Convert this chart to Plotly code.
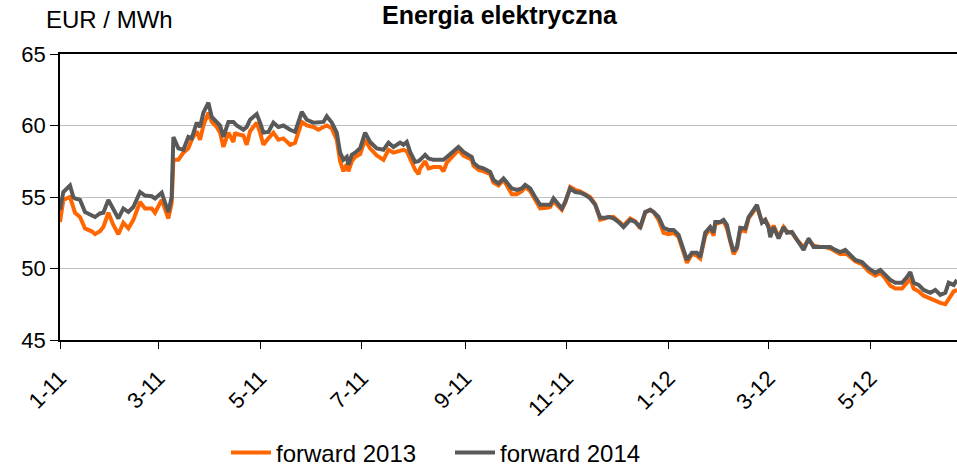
import plotly.graph_objects as go

dates = [
    "2011-01-01", "2011-01-03", "2011-01-07", "2011-01-09", "2011-01-10", "2011-01-13", "2011-01-16",
    "2011-01-20", "2011-01-22", "2011-01-25", "2011-01-27", "2011-01-30", "2011-02-02", "2011-02-05",
    "2011-02-08", "2011-02-11", "2011-02-14", "2011-02-18", "2011-02-21", "2011-02-25", "2011-02-27",
    "2011-03-03", "2011-03-05", "2011-03-07", "2011-03-09", "2011-03-10", "2011-03-13", "2011-03-16",
    "2011-03-19", "2011-03-21", "2011-03-24", "2011-03-26", "2011-03-28", "2011-03-31", "2011-04-02",
    "2011-04-05", "2011-04-07", "2011-04-09", "2011-04-12", "2011-04-15", "2011-04-16", "2011-04-17",
    "2011-04-21", "2011-04-23", "2011-04-25", "2011-04-29", "2011-05-01", "2011-05-03", "2011-05-06",
    "2011-05-09", "2011-05-12", "2011-05-15", "2011-05-19", "2011-05-22", "2011-05-26", "2011-05-29",
    "2011-06-02", "2011-06-05", "2011-06-08", "2011-06-10", "2011-06-13", "2011-06-16", "2011-06-18",
    "2011-06-20", "2011-06-22", "2011-06-23", "2011-06-25", "2011-06-27", "2011-06-30", "2011-07-03",
    "2011-07-06", "2011-07-10", "2011-07-14", "2011-07-17", "2011-07-20", "2011-07-24", "2011-07-26",
    "2011-07-28", "2011-07-30", "2011-08-02", "2011-08-04", "2011-08-05", "2011-08-08", "2011-08-10",
    "2011-08-13", "2011-08-17", "2011-08-19", "2011-08-21", "2011-08-25", "2011-08-28", "2011-08-31",
    "2011-09-03", "2011-09-05", "2011-09-06", "2011-09-09", "2011-09-12", "2011-09-16", "2011-09-18",
    "2011-09-21", "2011-09-24", "2011-09-26", "2011-09-29", "2011-10-02", "2011-10-05", "2011-10-07",
    "2011-10-10", "2011-10-13", "2011-10-16", "2011-10-20", "2011-10-22", "2011-10-24", "2011-10-27",
    "2011-10-29", "2011-10-31", "2011-11-03", "2011-11-06", "2011-11-09", "2011-11-12", "2011-11-15",
    "2011-11-18", "2011-11-21", "2011-11-24", "2011-11-26", "2011-11-29", "2011-12-02", "2011-12-05",
    "2011-12-09", "2011-12-12", "2011-12-15", "2011-12-18", "2011-12-21", "2011-12-23", "2011-12-26",
    "2011-12-29", "2012-01-01", "2012-01-04", "2012-01-07", "2012-01-10", "2012-01-12", "2012-01-15",
    "2012-01-18", "2012-01-20", "2012-01-23", "2012-01-26", "2012-01-28", "2012-01-29", "2012-02-01",
    "2012-02-03", "2012-02-05", "2012-02-07", "2012-02-09", "2012-02-11", "2012-02-13", "2012-02-16",
    "2012-02-18", "2012-02-21", "2012-02-23", "2012-02-26", "2012-02-28", "2012-03-01", "2012-03-02",
    "2012-03-04", "2012-03-07", "2012-03-10", "2012-03-12", "2012-03-15", "2012-03-18", "2012-03-22",
    "2012-03-25", "2012-03-28", "2012-04-01", "2012-04-04", "2012-04-07", "2012-04-10", "2012-04-13",
    "2012-04-16", "2012-04-19", "2012-04-22", "2012-04-26", "2012-04-30", "2012-05-04", "2012-05-07",
    "2012-05-10", "2012-05-13", "2012-05-16", "2012-05-20", "2012-05-23", "2012-05-25", "2012-05-27",
    "2012-05-30", "2012-06-02", "2012-06-06", "2012-06-09", "2012-06-12", "2012-06-15", "2012-06-17",
    "2012-06-20", "2012-06-22",
]

forward_2014 = [
    54.1, 55.35, 55.8, 55.0, 54.9, 54.8, 53.95,
    53.7, 53.6, 53.85, 53.9, 54.8, 54.1, 53.5,
    54.2, 53.95, 54.3, 55.35, 55.1, 55.05, 54.9,
    55.3, 54.6, 53.95, 55.0, 59.2, 58.4, 58.3,
    59.2, 59.1, 60.2, 59.9, 60.9, 61.6, 60.6,
    60.25, 60.0, 59.2, 60.25, 60.25, 60.1, 60.0,
    59.7, 59.9, 60.4, 60.8, 60.2, 59.5, 59.55,
    60.2, 59.9, 60.0, 59.7, 59.55, 60.95, 60.4,
    60.2, 60.25, 60.25, 60.65, 60.2, 59.5, 58.1,
    57.6, 57.8, 57.25, 57.95, 58.1, 58.4, 59.5,
    58.85, 58.4, 58.3, 58.8, 58.5, 58.8, 58.65,
    58.85, 58.15, 57.45, 57.5, 57.6, 57.95, 57.7,
    57.6, 57.6, 57.6, 57.8, 58.15, 58.5, 58.15,
    57.95, 57.8, 57.4, 57.1, 57.0, 56.75, 56.2,
    55.95, 56.3, 56.05, 55.6, 55.5, 55.6, 55.85,
    55.6, 55.0, 54.45, 54.45, 54.45, 54.9, 54.45,
    54.2, 54.65, 55.6, 55.35, 55.3, 55.15, 54.9,
    54.45, 53.55, 53.55, 53.6, 53.5, 53.25, 52.9,
    53.4, 53.25, 52.9, 53.95, 54.1, 53.95, 53.6,
    52.85, 52.7, 52.7, 52.35, 51.3, 50.6, 51.1,
    51.1, 50.8, 52.5, 52.9, 52.5, 53.25, 53.25,
    53.4, 53.05, 52.0, 51.2, 51.5, 52.85, 52.8,
    53.6, 54.1, 54.45, 53.2, 53.4, 52.85, 52.2,
    52.9, 52.1, 52.9, 52.5, 52.55, 52.0, 51.3,
    52.1, 51.5, 51.5, 51.5, 51.5, 51.3, 51.15,
    51.3, 50.95, 50.6, 50.45, 50.0, 49.7, 49.9,
    49.55, 49.2, 49.0, 49.0, 49.4, 49.75, 49.0,
    48.85, 48.5, 48.3, 48.5, 48.15, 48.3, 49.0,
    48.85, 49.2,
]

forward_2013 = [
    53.25, 54.8, 55.0, 54.3, 53.9, 53.6, 52.8,
    52.6, 52.4, 52.6, 52.9, 53.9, 53.05, 52.4,
    53.2, 52.8, 53.4, 54.65, 54.2, 54.2, 53.9,
    54.8, 54.2, 53.5, 54.6, 57.6, 57.6, 58.1,
    58.4, 59.0, 59.6, 59.0, 60.0, 60.9, 60.25,
    59.9, 59.5, 58.5, 59.5, 58.85, 59.5, 59.4,
    59.3, 58.65, 59.6, 60.2, 59.5, 58.65, 59.1,
    59.5, 59.0, 59.1, 58.65, 58.8, 60.25, 60.0,
    59.9, 59.7, 59.9, 60.0, 59.8, 59.0, 57.5,
    56.8, 57.3, 56.8, 57.5, 57.8, 58.0, 59.0,
    58.4, 57.9, 57.6, 58.3, 58.1, 58.2, 58.3,
    58.2, 57.7, 56.9, 56.6, 57.0, 57.5, 57.0,
    57.1, 57.1, 56.8, 57.4, 57.9, 58.3, 57.9,
    57.7, 57.6, 57.2, 56.9, 56.8, 56.6, 56.0,
    55.8, 56.2, 55.8, 55.2, 55.2, 55.4, 55.7,
    55.4, 54.8, 54.2, 54.25, 54.3, 54.7, 54.3,
    54.1, 54.6, 55.7, 55.5, 55.4, 55.2, 55.0,
    54.5, 53.4, 53.5, 53.6, 53.6, 53.3, 53.0,
    53.5, 53.3, 52.8, 53.9, 54.1, 53.95, 53.4,
    52.5, 52.4, 52.5, 52.2, 51.1, 50.4, 51.0,
    50.9, 50.7, 52.3, 52.8, 52.3, 53.1, 53.2,
    53.3, 52.8, 51.8, 51.0, 51.4, 52.7, 52.6,
    53.5, 54.0, 54.3, 53.3, 53.4, 53.0, 52.4,
    53.0, 52.2, 52.9, 52.6, 52.5, 52.0, 51.5,
    52.0, 51.6, 51.5, 51.5, 51.4, 51.2, 51.0,
    51.1, 50.8, 50.5, 50.3, 49.8, 49.5, 49.7,
    49.3, 48.8, 48.6, 48.6, 49.0, 49.3, 48.6,
    48.4, 48.1, 47.9, 47.7, 47.6, 47.5, 47.9,
    48.4, 48.5,
]

tick_dates = ["2011-01-01", "2011-03-01", "2011-05-01", "2011-07-01", "2011-09-01",
              "2011-11-01", "2012-01-01", "2012-03-01", "2012-05-01"]
tick_labels = ["1-11", "3-11", "5-11", "7-11", "9-11", "11-11", "1-12", "3-12", "5-12"]

FONT = "Liberation Sans, Arial, sans-serif"
H = 490  # taller than the 468 window; the page is clipped to the window

fig = go.Figure()
fig.add_trace(go.Scatter(x=dates, y=forward_2013, mode="lines", name="forward 2013",
                         line=dict(color="#FF6600", width=4)))
fig.add_trace(go.Scatter(x=dates, y=forward_2014, mode="lines", name="forward 2014",
                         line=dict(color="#595959", width=4)))

fig.update_layout(
    width=957, height=H,
    margin=dict(l=60, r=0, t=54, b=H - 340),
    paper_bgcolor="white", plot_bgcolor="white",
    font=dict(family=FONT, size=22, color="black"),
    showlegend=True,
    legend=dict(orientation="h", x=(226 - 60) / 897, xanchor="left",
                y=-(453 - 340) / 286, yanchor="middle",
                font=dict(size=24), bgcolor="rgba(0,0,0,0)",
                entrywidth=169, entrywidthmode="pixels", itemwidth=40),
    xaxis=dict(type="date", range=["2011-01-01", "2012-06-22"], automargin=False,
               tickmode="array", tickvals=tick_dates, ticktext=tick_labels,
               tickangle=-45, ticks="outside", ticklen=7, tickcolor="black",
               ticklabelstandoff=8,
               showline=True, linecolor="black", linewidth=1.5, mirror=True,
               showgrid=False, zeroline=False, tickfont=dict(size=22)),
    yaxis=dict(range=[45, 65], tickmode="array", tickvals=[45, 50, 55, 60, 65],
               automargin=False,
               ticks="outside", ticklen=8, tickcolor="black",
               showline=True, linecolor="black", linewidth=1.5,
               showgrid=True, gridcolor="#C0C0C0", gridwidth=1, zeroline=False,
               tickfont=dict(size=22)),
    annotations=[
        dict(text="<b>Energia elektryczna</b>", xref="paper", yref="paper",
             x=(500 - 60) / 897, y=(340 - 15) / 286, xanchor="center", yanchor="middle",
             showarrow=False, font=dict(size=25, family=FONT, color="black")),
        dict(text="EUR / MWh", xref="paper", yref="paper",
             x=(44 - 60) / 897, y=(340 - 19) / 286, xanchor="left", yanchor="middle",
             showarrow=False, font=dict(size=24, family=FONT, color="black")),
    ],
)

fig.write_html("out.html", config={"displayModeBar": False},
               post_script="document.body.style.margin='0';document.body.style.overflow='hidden';")
